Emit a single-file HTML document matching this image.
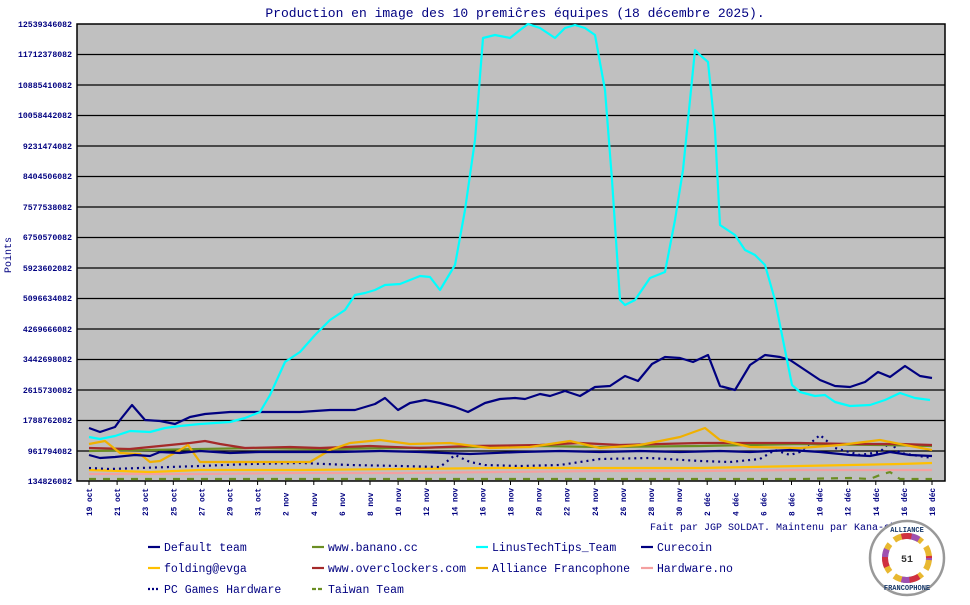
<!DOCTYPE html>
<html><head><meta charset="utf-8"><style>
body{margin:0;background:#fff;}
svg text{font-family:"Liberation Mono","DejaVu Sans Mono",monospace;fill:#000080;}
</style></head><body>
<svg width="970" height="600" xmlns="http://www.w3.org/2000/svg">
<text x="515" y="17" font-size="13" text-anchor="middle">Production en image des 10 premiĉres équipes (18 décembre 2025).</text>
<rect x="77" y="24" width="868" height="457" fill="#c0c0c0" stroke="#000" stroke-width="1.5"/>
<g stroke="#000" stroke-width="1.2">
<line x1="77" x2="945" y1="54.5" y2="54.5"/><line x1="77" x2="945" y1="85" y2="85"/><line x1="77" x2="945" y1="115.5" y2="115.5"/><line x1="77" x2="945" y1="146" y2="146"/><line x1="77" x2="945" y1="176.5" y2="176.5"/><line x1="77" x2="945" y1="207" y2="207"/><line x1="77" x2="945" y1="237.5" y2="237.5"/><line x1="77" x2="945" y1="268" y2="268"/><line x1="77" x2="945" y1="298.5" y2="298.5"/><line x1="77" x2="945" y1="329" y2="329"/><line x1="77" x2="945" y1="359.5" y2="359.5"/><line x1="77" x2="945" y1="390" y2="390"/><line x1="77" x2="945" y1="420.5" y2="420.5"/><line x1="77" x2="945" y1="451" y2="451"/>
</g>
<g font-size="8.2" font-weight="bold" text-anchor="end">
<text x="72" y="27">12539346082</text><text x="72" y="57">11712378082</text><text x="72" y="88">10885410082</text><text x="72" y="118">10058442082</text><text x="72" y="149">9231474082</text><text x="72" y="179">8404506082</text><text x="72" y="210">7577538082</text><text x="72" y="240">6750570082</text><text x="72" y="271">5923602082</text><text x="72" y="301">5096634082</text><text x="72" y="332">4269666082</text><text x="72" y="362">3442698082</text><text x="72" y="393">2615730082</text><text x="72" y="423">1788762082</text><text x="72" y="454">961794082</text><text x="72" y="484">134826082</text>
</g>
<text transform="translate(11,255) rotate(-90)" font-size="10" text-anchor="middle">Points</text>
<g id="xl" font-size="7.8" font-weight="bold"></g>
<g fill="none" stroke-width="2.2" stroke-linejoin="round">
<polyline stroke="#6b8e23" stroke-dasharray="7,7" points="89,479 200,479 400,479 600,479 800,479 850,478 870,479 880,475 890,472 900,479 932,479"/>
<polyline stroke="#f4a0a0" points="89,474 200,474 300,473 400,473 500,472 600,471 700,471 800,470 932,470"/>
<polyline stroke="#ffc000" points="89,470 150,472 200,470 300,470 400,469 500,468 600,468 700,468 800,466 850,465 900,464 932,463"/>
<polyline stroke="#000080" stroke-dasharray="2,4" points="89,468 110,469 200,466 250,464 300,463 350,465 400,466 440,467 455,455 470,462 485,465 520,466 560,465 600,459 650,458 700,461 730,462 760,459 775,450 790,455 800,452 820,435 835,448 860,455 880,452 890,442 900,453 932,458"/>
<polyline stroke="#6b8e23" points="89,451 150,450 200,449 260,448 320,449 400,448 470,447 540,446 600,447 700,446 800,444 880,445 932,446"/>
<polyline stroke="#a52a2a" points="89,448 130,449 160,446 190,443 205,441 220,444 245,448 290,447 320,448 370,446 420,448 470,446 540,445 580,443 620,445 700,443 750,443 800,443 850,444 900,444 932,445"/>
<polyline stroke="#f0b000" points="89,444 105,441 120,453 140,454 150,462 160,461 180,450 188,445 200,462 215,462 260,462 310,462 330,450 350,443 380,440 410,444 450,443 490,448 530,447 570,441 600,448 640,445 680,437 705,428 720,440 750,447 800,448 840,445 880,440 905,445 932,450"/>
<polyline stroke="#000080" points="89,455 100,458 115,457 135,455 150,456 160,452 180,453 200,451 230,453 260,452 300,452 340,452 380,451 420,452 470,454 520,452 560,451 600,452 640,451 680,452 720,451 750,452 770,451 790,450 820,452 850,455 870,456 890,452 910,455 932,456"/>
<polyline stroke="#000080" points="89,428 100,432 115,427 120,420 132,405 145,420 160,421 175,424 190,417 205,414 230,412 260,412 300,412 330,410 355,410 365,407 375,404 385,398 398,410 410,403 425,400 440,403 455,407 468,412 485,403 500,399 515,398 525,399 540,394 550,396 565,391 580,396 595,387 610,386 625,376 638,381 652,364 665,357 680,358 693,362 708,355 720,386 735,390 750,365 765,355 780,357 790,360 805,370 820,380 835,386 850,387 865,382 878,372 890,377 905,366 920,376 932,378"/>
<polyline stroke="#00ffff" points="89,437 100,439 115,436 130,431 150,432 165,428 180,426 200,424 230,422 245,418 260,412 270,395 285,362 300,352 315,335 330,320 345,310 355,295 365,293 375,290 385,285 400,284 410,280 420,276 430,277 440,290 455,265 465,210 475,140 483,38 495,35 510,38 520,30 528,24 540,28 555,38 565,28 575,25 585,28 595,35 605,90 612,180 620,300 625,305 635,300 650,278 665,272 675,220 683,170 690,100 695,50 700,55 708,62 715,130 720,225 735,235 745,250 755,255 765,265 775,300 785,350 792,385 800,392 815,396 825,395 835,402 850,406 870,405 885,400 900,393 915,398 930,400"/>
</g>
<text x="650" y="530" font-size="10">Fait par JGP SOLDAT. Maintenu par Kana-chan</text>
<g font-size="11.5" stroke-width="2.2">
<line x1="148" x2="160" y1="547" y2="547" stroke="#000080"/><text x="164" y="551">Default team</text>
<line x1="312" x2="324" y1="547" y2="547" stroke="#6b8e23"/><text x="328" y="551">www.banano.cc</text>
<line x1="476" x2="488" y1="547" y2="547" stroke="#00ffff"/><text x="492" y="551">LinusTechTips_Team</text>
<line x1="641" x2="653" y1="547" y2="547" stroke="#000080"/><text x="657" y="551">Curecoin</text>
<line x1="148" x2="160" y1="568" y2="568" stroke="#ffc000"/><text x="164" y="572">folding@evga</text>
<line x1="312" x2="324" y1="568" y2="568" stroke="#a52a2a"/><text x="328" y="572">www.overclockers.com</text>
<line x1="476" x2="488" y1="568" y2="568" stroke="#f0b000"/><text x="492" y="572">Alliance Francophone</text>
<line x1="641" x2="653" y1="568" y2="568" stroke="#f4a0a0"/><text x="657" y="572">Hardware.no</text>
<line x1="148" x2="160" y1="589" y2="589" stroke="#000080" stroke-dasharray="2,2"/><text x="164" y="593">PC Games Hardware</text>
<line x1="312" x2="324" y1="589" y2="589" stroke="#6b8e23" stroke-dasharray="4,2"/><text x="328" y="593">Taiwan Team</text>
</g>
<g>
<circle cx="907" cy="558" r="37" fill="#fff" stroke="#999" stroke-width="2.5"/>
<circle cx="907" cy="558" r="22" fill="none" stroke="#e8b830" stroke-width="6" stroke-dasharray="12,6"/>
<circle cx="907" cy="558" r="22" fill="none" stroke="#3aa0d8" stroke-width="6" stroke-dasharray="10,28" stroke-dashoffset="10"/>
<circle cx="907" cy="558" r="22" fill="none" stroke="#a050b0" stroke-width="6" stroke-dasharray="10,28" stroke-dashoffset="-30"/>
<circle cx="907" cy="558" r="22" fill="none" stroke="#d03040" stroke-width="6" stroke-dasharray="10,28" stroke-dashoffset="-60"/>
<text x="907" y="562" font-size="10" text-anchor="middle" font-weight="bold" style="fill:#333">51</text>
<text x="907" y="532" font-size="7" text-anchor="middle" font-weight="bold" style="fill:#1a3a6a">ALLIANCE</text>
<text x="907" y="590" font-size="7" text-anchor="middle" font-weight="bold" style="fill:#1a3a6a">FRANCOPHONE</text>
</g>
</svg>
<script>
var g=document.getElementById('xl'),m=[31,30,31],names=['oct','nov','déc'];
var d=19,mi=0;
for(var i=0;i<31;i++){var x=89+i*28.1;
var t=document.createElementNS('http://www.w3.org/2000/svg','text');
t.setAttribute('transform','translate('+(x+3)+',516) rotate(-90)');
t.textContent=d+' '+names[mi];g.appendChild(t);
var l=document.createElementNS('http://www.w3.org/2000/svg','line');
l.setAttribute('x1',x);l.setAttribute('x2',x);l.setAttribute('y1',481);l.setAttribute('y2',485);l.setAttribute('stroke','#000');g.appendChild(l);
d+=2;if(d>m[mi]){d-=m[mi];mi++;}}
</script>
</body></html>
